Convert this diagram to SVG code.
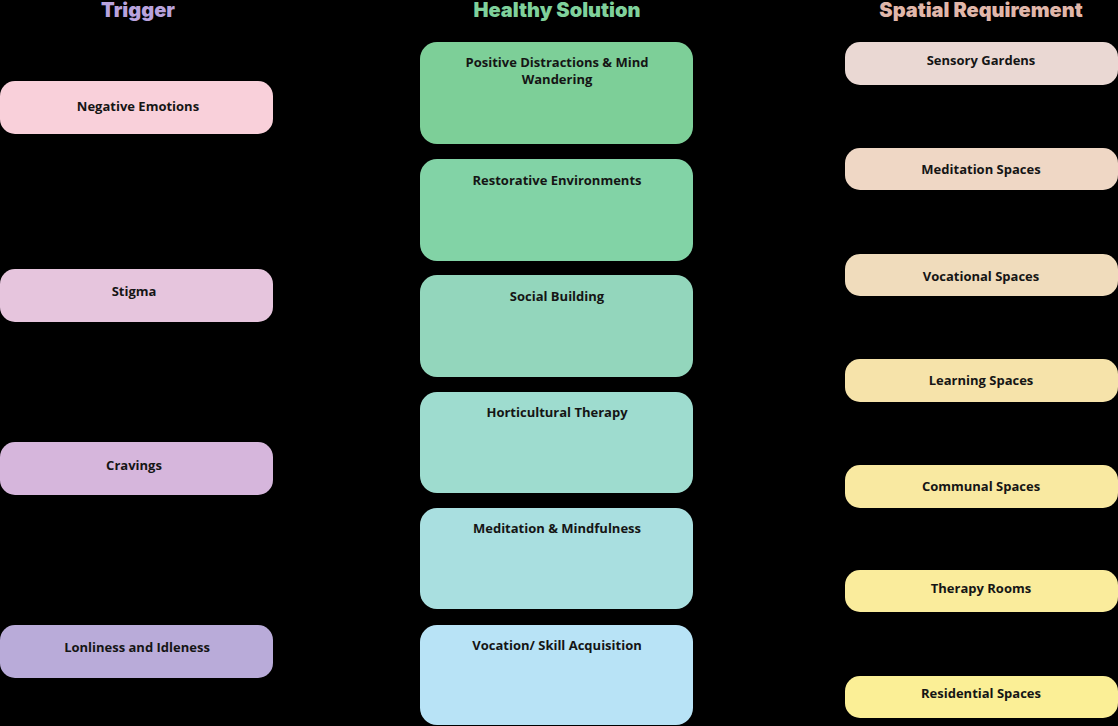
<svg xmlns="http://www.w3.org/2000/svg" width="1118" height="726" viewBox="0 0 1118 726">
<style>
.hdr{font-family:Inter,"Open Sans","Liberation Sans",sans-serif;font-weight:900;font-size:20px;text-anchor:middle}
.lbl{font-family:"Open Sans",Inter,"Liberation Sans",sans-serif;font-weight:700;font-size:13px;fill:#151515;text-anchor:middle}
</style>
<rect width="1118" height="726" fill="#000"/>
<g id="headers">
<text class="hdr" x="138" y="17" fill="#b9a3dd">Trigger</text>
<text class="hdr" x="557" y="17" fill="#7fd19b">Healthy Solution</text>
<text class="hdr" x="981" y="17" fill="#e0b7aa">Spatial Requirement</text>
</g>
<g id="connectors"></g>
<g id="t1"><rect x="0" y="81" width="273" height="53" rx="15" fill="#f9d0da"/><text class="lbl" x="138" y="111">Negative Emotions</text></g>
<g id="t2"><rect x="0" y="269" width="273" height="53" rx="15" fill="#e6c5dd"/><text class="lbl" x="134" y="296">Stigma</text></g>
<g id="t3"><rect x="0" y="442" width="273" height="53" rx="15" fill="#d6b6dc"/><text class="lbl" x="134" y="470">Cravings</text></g>
<g id="t4"><rect x="0" y="625" width="273" height="53" rx="15" fill="#b9abd9"/><text class="lbl" x="137" y="652">Lonliness and Idleness</text></g>
<g id="s1"><rect x="420" y="42" width="273" height="102" rx="17" fill="#7dcf98"/><text class="lbl" x="557" y="67">Positive Distractions &amp; Mind</text><text class="lbl" x="557" y="84">Wandering</text></g>
<g id="s2"><rect x="420" y="159" width="273" height="102" rx="17" fill="#82d3a6"/><text class="lbl" x="557" y="185">Restorative Environments</text></g>
<g id="s3"><rect x="420" y="275" width="273" height="102" rx="17" fill="#93d6bc"/><text class="lbl" x="557" y="301">Social Building</text></g>
<g id="s4"><rect x="420" y="392" width="273" height="101" rx="17" fill="#9edccf"/><text class="lbl" x="557" y="417">Horticultural Therapy</text></g>
<g id="s5"><rect x="420" y="508" width="273" height="101" rx="17" fill="#a9dfe0"/><text class="lbl" x="557" y="533">Meditation &amp; Mindfulness</text></g>
<g id="s6"><rect x="420" y="625" width="273" height="100" rx="17" fill="#b8e3f6"/><text class="lbl" x="557" y="650">Vocation/ Skill Acquisition</text></g>
<g id="r1"><rect x="845" y="42" width="273" height="43" rx="15" fill="#ead8d3"/><text class="lbl" x="981" y="65">Sensory Gardens</text></g>
<g id="r2"><rect x="845" y="148" width="273" height="42" rx="15" fill="#efd7c5"/><text class="lbl" x="981" y="174">Meditation Spaces</text></g>
<g id="r3"><rect x="845" y="254" width="273" height="42" rx="15" fill="#f0dcbc"/><text class="lbl" x="981" y="281">Vocational Spaces</text></g>
<g id="r4"><rect x="845" y="359" width="273" height="43" rx="15" fill="#f6e3aa"/><text class="lbl" x="981" y="385">Learning Spaces</text></g>
<g id="r5"><rect x="845" y="465" width="273" height="43" rx="15" fill="#f9e9a1"/><text class="lbl" x="981" y="491">Communal Spaces</text></g>
<g id="r6"><rect x="845" y="570" width="273" height="42" rx="15" fill="#faec9c"/><text class="lbl" x="981" y="593">Therapy Rooms</text></g>
<g id="r7"><rect x="845" y="676" width="273" height="42" rx="15" fill="#fbef96"/><text class="lbl" x="981" y="698">Residential Spaces</text></g>
</svg>
